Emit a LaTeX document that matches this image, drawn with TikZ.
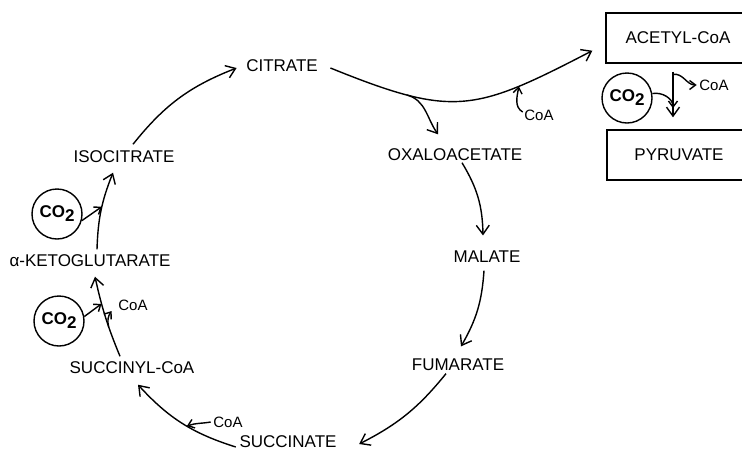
\documentclass[tikz,border=0pt]{standalone}
\usepackage{fontspec}
\setmainfont{Liberation Sans}
\usetikzlibrary{arrows.meta}
\newcommand{\cotwo}{CO\raisebox{-0.45ex}{2}}
\tikzstyle{met} = [inner sep=2pt, font=\fontsize{17}{20}\selectfont]

\begin{document}
\begin{tikzpicture}[x=1pt, y=-1pt, line width=1.4pt,
		co/.style={inner sep=2pt, font=\fontsize{15}{18}\selectfont},
		gas/.style={draw, circle, minimum size=50pt, inner sep=0pt, font=\bfseries\fontsize{17}{20}\selectfont},
		box/.style={met, draw, minimum width=144pt, minimum height=50pt},
		arr/.style={-{Straight Barb[length=9pt,width=13pt]}},
		sarr/.style={-{Straight Barb[length=6pt,width=9pt]}}]
		\useasboundingbox (0,0) rectangle (742,451);
		\clip (0,0) rectangle (742,451);
		% metabolites
		\node (cit)[met] at (282,66) {CITRATE};
		\node (oxa)[met] at (455,155) {OXALOACETATE};
		\node (mal)[met] at (487,257) {MALATE};
		\node (fum)[met] at (458,365) {FUMARATE};
		\node (succ)[met] at (288,442) {SUCCINATE};
		\node (suc)[met] at (132,368) {SUCCINYL-CoA};
		\node (akg)[met] at (90,261) {α-KETOGLUTARATE};
		\node (iso)[met] at (124,157) {ISOCITRATE};
		\node (acet)[box] at (678,38) {ACETYL-CoA};
		\node (pyr)[box] at (679,155) {PYRUVATE};
		% CO2 and CoA
		\node (co2a)[gas] at (57,214) {\cotwo};
		\node (co2b)[gas] at (59,321) {\cotwo};
		\node (co2c)[gas] at (627,98) {\cotwo};
		\node (coa1)[co] at (133,305) {CoA};
		\node (coa2)[co] at (228,422) {CoA};
		\node (coa3)[co] at (539,115) {CoA};
		\node (coa4)[co] at (714,85) {CoA};
		% the cycle
		\draw[arr] ([shift={(7,-1)}]oxa.south) to[bend left=15] ([shift={(-4,-13)}]mal.north);
		\draw[arr] ([shift={(-3,5)}]mal.south) to[bend left=13] ([shift={(3,-10)}]fum.north);
		\draw[arr] ([shift={(-12,0)}]fum.south) to[bend left=12] ([shift={(20,2)}]succ.east);
		\draw[arr] ([shift={(-1,5)}]succ.west) to[bend left=15] coordinate[pos=.45] (j4) ([shift={(6,8)}]suc.south);
		\draw[arr] ([shift={(-12,-3)}]suc.north) to[bend left=5] coordinate[pos=.37] (j3) coordinate[pos=.68] (j2) ([shift={(5,7)}]akg.south);
		\draw[arr] ([shift={(7,-3)}]akg.north) to[bend left=10] coordinate[pos=.55] (j1) ([shift={(-11,7)}]iso.south);
		\draw[arr] ([shift={(9,-4)}]iso.north) to[bend left=15] ([shift={(-7,2)}]cit.west);
		% citrate split
		\draw[arr] ([shift={(10,2)}]cit.east) .. controls (454,118) and (474,112) .. ([shift={(-13,-13)}]acet.south west) coordinate[pos=.25] (split) coordinate[pos=.75] (j5);
		\draw[arr] (split) to[out=-15, in=125] ([shift={(-17,-12)}]oxa.north);
		\draw[sarr] ([shift={(1,-3)}]coa3.west) to[out=150, in=-100] (j5);
		% pyruvate
		\draw[arr] ([shift={(-5,8)}]acet.south) -- coordinate[pos=.06] (j7) coordinate[pos=.8] (j6) ([shift={(-6,-12)}]pyr.north);
		\draw[sarr] (co2c.10) to[out=10, in=90] (j6);
		\draw[sarr] (j7) to[out=10, in=180] (coa4.west);
		% side arrows
		\draw[sarr] (co2a.-15) -- (j1);
		\draw[sarr] (co2b.10) -- (j2);
		\draw[sarr] (j3) to[bend left=25] ([shift={(-4,6)}]coa1.west);
		\draw[sarr] (coa2.west) to[out=190, in=20] (j4);
	\end{tikzpicture}
\end{document}
